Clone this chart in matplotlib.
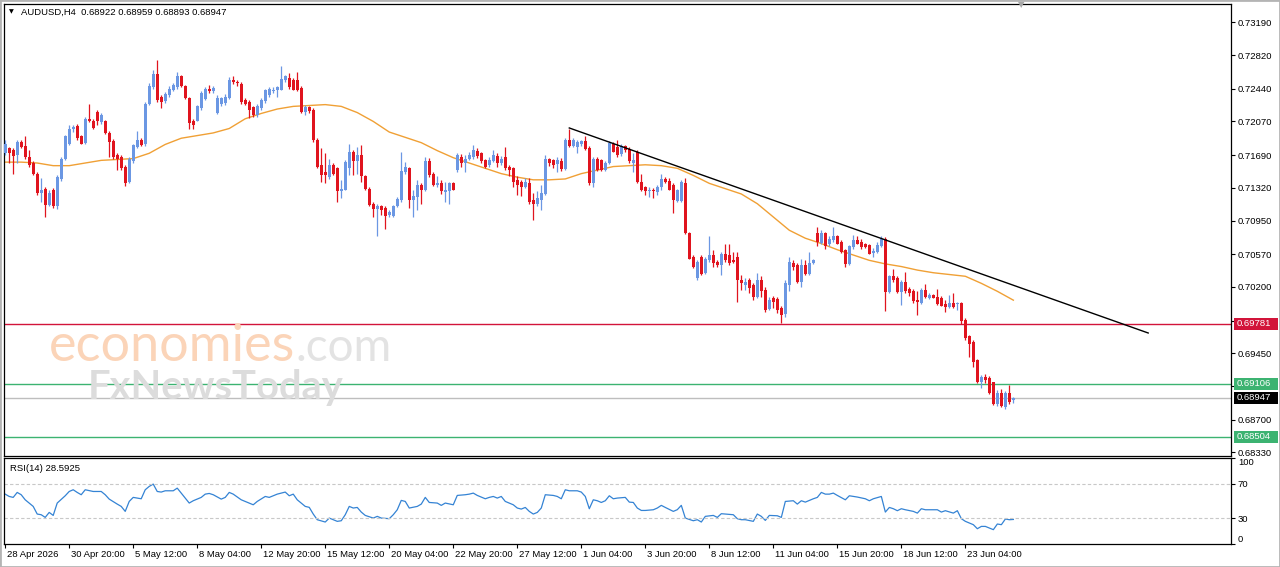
import matplotlib
matplotlib.use("Agg")
import matplotlib.pyplot as plt
from matplotlib.patches import Rectangle
from matplotlib.transforms import ScaledTranslation

# AUDUSD H4 candles (bar 0 = 28 Apr 04:00)
opens = [
    .7171, .7177, .7175, .7169, .7184, .7179, .7167, .7160, .7148, .7126,
    .7131, .7113, .7130, .7111, .7142, .7165, .7182, .7198, .7202, .7190,
    .7183, .7210, .7208, .7218, .7206, .7207, .7194, .7185, .7169, .7167,
    .7156, .7138, .7162, .7178, .7186, .7181, .7227, .7246, .7261, .7235,
    .7230, .7237, .7242, .7246, .7258, .7247, .7233, .7208, .7208, .7222,
    .7232, .7244, .7241, .7217, .7227, .7228, .7234, .7254, .7252, .7249,
    .7231, .7229, .7223, .7214, .7222, .7230, .7237, .7241, .7242, .7243,
    .7254, .7256, .7254, .7254, .7245, .7218, .7223, .7220, .7186, .7158,
    .7150, .7144, .7158, .7154, .7128, .7130, .7154, .7173, .7162, .7169,
    .7145, .7131, .7114, .7108, .7111, .7109, .7101, .7100, .7111, .7118,
    .7150, .7154, .7118, .7122, .7135, .7129, .7162, .7148, .7135, .7137,
    .7127, .7128, .7137, .7152, .7167, .7160, .7164, .7167, .7174, .7171,
    .7163, .7158, .7162, .7168, .7160, .7167, .7156, .7154, .7141, .7138,
    .7133, .7137, .7118, .7114, .7118, .7125, .7164, .7163, .7159, .7162,
    .7153, .7186, .7179, .7178, .7182, .7185, .7177, .7137, .7165, .7163,
    .7152, .7160, .7182, .7178, .7170, .7179, .7176, .7160, .7173, .7139,
    .7133, .7128, .7130, .7127, .7133, .7142, .7140, .7135, .7117, .7117,
    .7137, .7081, .7054, .7030, .7054, .7036, .7050, .7056, .7048, .7045,
    .7057, .7056, .7050, .7054, .7028, .7022, .7028, .7022, .7009, .7028,
    .7017, .6995, .7007, .7006, .6996, .6989, .7022, .7047, .7045, .7026,
    .7045, .7035, .7047, .7081, .7070, .7081, .7069, .7073, .7077, .7071,
    .7062, .7046, .7065, .7073, .7071, .7068, .7067, .7058, .7060, .7066,
    .7074, .7014, .7032, .7030, .7014, .7025, .7018, .7015, .7005, .7002,
    .7016, .7008, .7011, .7009, .7008, .7001, .6997, .7002, .7001, .7002,
    .6983, .6964, .6958, .6937, .6912, .6918, .6917, .6912, .6888, .6900,
    .6884, .6900, .68922,
]
highs = [
    .7186, .7178, .7177, .7186, .7186, .7190, .7175, .7162, .7150, .7143,
    .7133, .7130, .7132, .7146, .7167, .7192, .7203, .7203, .7204, .7192,
    .7212, .7227, .7210, .7220, .7216, .7209, .7196, .7187, .7171, .7169,
    .7158, .7167, .7182, .7196, .7188, .7229, .7250, .7265, .7276, .7237,
    .7240, .7247, .7250, .7263, .7259, .7248, .7235, .7210, .7226, .7241,
    .7246, .7248, .7247, .7237, .7235, .7238, .7257, .7258, .7254, .7251,
    .7233, .7231, .7224, .7227, .7233, .7244, .7246, .7246, .7247, .7270,
    .7260, .7262, .7256, .7263, .7247, .7226, .7224, .7222, .7188, .7177,
    .7171, .7165, .7160, .7156, .7141, .7163, .7182, .7175, .7178, .7180,
    .7147, .7133, .7116, .7114, .7112, .7111, .7107, .7112, .7122, .7173,
    .7161, .7156, .7130, .7141, .7137, .7167, .7166, .7150, .7145, .7141,
    .7139, .7139, .7139, .7171, .7170, .7169, .7172, .7180, .7177, .7173,
    .7165, .7167, .7175, .7171, .7168, .7178, .7158, .7156, .7145, .7141,
    .7143, .7143, .7126, .7128, .7135, .7169, .7166, .7165, .7167, .7166,
    .7188, .7199, .7188, .7186, .7186, .7190, .7179, .7167, .7167, .7165,
    .7162, .7185, .7184, .7186, .7182, .7180, .7178, .7171, .7175, .7148,
    .7134, .7133, .7132, .7135, .7148, .7144, .7143, .7137, .7131, .7141,
    .7143, .7082, .7056, .7050, .7056, .7054, .7077, .7062, .7050, .7060,
    .7069, .7068, .7060, .7060, .7033, .7030, .7030, .7024, .7036, .7032,
    .7020, .7009, .7010, .7009, .6998, .7028, .7054, .7050, .7047, .7052,
    .7050, .7060, .7052, .7088, .7084, .7082, .7077, .7088, .7079, .7073,
    .7063, .7067, .7079, .7077, .7074, .7070, .7069, .7064, .7071, .7077,
    .7076, .7034, .7040, .7032, .7028, .7037, .7020, .7018, .7015, .7019,
    .7023, .7013, .7012, .7018, .7010, .7005, .7011, .7013, .7003, .7003,
    .6985, .6966, .6960, .6938, .6920, .6922, .6919, .6913, .6904, .6905,
    .6902, .6909, .68959,
]
lows = [
    .7169, .7160, .7148, .7160, .7177, .7165, .7156, .7147, .7124, .7116,
    .7099, .7111, .7109, .7108, .7140, .7163, .7180, .7195, .7186, .7181,
    .7181, .7206, .7199, .7203, .7204, .7193, .7167, .7165, .7152, .7152,
    .7134, .7137, .7160, .7177, .7179, .7179, .7225, .7244, .7229, .7222,
    .7228, .7235, .7241, .7244, .7246, .7232, .7199, .7198, .7207, .7220,
    .7231, .7239, .7239, .7215, .7224, .7226, .7232, .7249, .7247, .7227,
    .7226, .7211, .7212, .7212, .7220, .7228, .7235, .7239, .7235, .7242,
    .7252, .7244, .7242, .7241, .7216, .7214, .7217, .7184, .7154, .7139,
    .7137, .7142, .7146, .7116, .7120, .7130, .7146, .7146, .7148, .7139,
    .7130, .7111, .7099, .7077, .7101, .7085, .7099, .7099, .7110, .7116,
    .7148, .7109, .7099, .7107, .7114, .7128, .7144, .7134, .7133, .7125,
    .7116, .7114, .7129, .7150, .7156, .7150, .7163, .7165, .7166, .7160,
    .7154, .7156, .7161, .7156, .7158, .7152, .7145, .7133, .7124, .7123,
    .7132, .7114, .7096, .7111, .7107, .7124, .7157, .7154, .7150, .7151,
    .7152, .7178, .7178, .7171, .7179, .7175, .7135, .7133, .7151, .7151,
    .7151, .7159, .7172, .7167, .7168, .7173, .7160, .7150, .7137, .7128,
    .7124, .7122, .7121, .7124, .7130, .7137, .7129, .7104, .7116, .7116,
    .7080, .7051, .7041, .7028, .7033, .7035, .7048, .7043, .7043, .7034,
    .7048, .7045, .7047, .7003, .7016, .7017, .7013, .7005, .7007, .7009,
    .6992, .6994, .6996, .6990, .6979, .6986, .7015, .7039, .7024, .7020,
    .7033, .7033, .7046, .7066, .7068, .7063, .7066, .7071, .7068, .7058,
    .7043, .7045, .7063, .7068, .7063, .7064, .7057, .7054, .7058, .7065,
    .6993, .7013, .7026, .7013, .6999, .7013, .7010, .7002, .6988, .7001,
    .7007, .7006, .7007, .6999, .6998, .6992, .6996, .6996, .6994, .6978,
    .6960, .6941, .6930, .6911, .6906, .6911, .6899, .6887, .6885, .6884,
    .6882, .6888, .68893,
]
closes = [
    .7182, .7171, .7168, .7184, .7178, .7167, .7158, .7148, .7126, .7130,
    .7113, .7126, .7111, .7144, .7165, .7190, .7199, .7201, .7188, .7182,
    .7210, .7207, .7200, .7207, .7214, .7194, .7184, .7167, .7165, .7154,
    .7137, .7165, .7180, .7186, .7180, .7227, .7247, .7261, .7231, .7229,
    .7238, .7244, .7248, .7258, .7247, .7233, .7205, .7203, .7224, .7239,
    .7244, .7241, .7245, .7233, .7233, .7235, .7254, .7251, .7250, .7229,
    .7227, .7220, .7214, .7224, .7231, .7243, .7244, .7243, .7246, .7255,
    .7258, .7246, .7243, .7242, .7218, .7223, .7219, .7186, .7156, .7146,
    .7146, .7158, .7148, .7128, .7131, .7161, .7173, .7162, .7169, .7145,
    .7131, .7113, .7108, .7111, .7107, .7100, .7105, .7111, .7119, .7151,
    .7155, .7118, .7123, .7135, .7129, .7162, .7146, .7135, .7137, .7128,
    .7129, .7137, .7130, .7169, .7160, .7164, .7169, .7175, .7168, .7162,
    .7156, .7163, .7169, .7160, .7165, .7154, .7152, .7139, .7135, .7133,
    .7139, .7116, .7114, .7120, .7126, .7165, .7160, .7158, .7163, .7153,
    .7186, .7179, .7186, .7184, .7185, .7176, .7137, .7165, .7152, .7152,
    .7160, .7183, .7173, .7169, .7179, .7175, .7162, .7163, .7139, .7130,
    .7128, .7130, .7128, .7133, .7142, .7139, .7130, .7118, .7129, .7138,
    .7081, .7052, .7043, .7048, .7035, .7052, .7056, .7047, .7045, .7057,
    .7050, .7047, .7048, .7028, .7024, .7026, .7019, .7009, .7028, .7015,
    .6994, .7005, .7003, .6994, .6988, .7024, .7048, .7043, .7026, .7045,
    .7035, .7047, .7050, .7071, .7081, .7066, .7074, .7077, .7069, .7060,
    .7046, .7066, .7073, .7069, .7065, .7065, .7057, .7061, .7067, .7074,
    .7014, .7032, .7028, .7014, .7025, .7015, .7013, .7004, .7003, .7016,
    .7009, .7011, .7008, .7001, .6998, .6997, .7002, .6997, .7002, .6981,
    .6962, .6956, .6935, .6912, .6918, .6915, .6900, .6888, .6900, .6885,
    .6900, .6890, .68947,
]

# moving average (orange), sampled every 4 bars
ma_bars = [0, 4, 8, 12, 16, 20, 24, 28, 32, 36, 40, 44, 48, 52, 56, 60,
           64, 68, 72, 76, 80, 84, 88, 92, 96, 100, 104, 108, 112, 116,
           120, 124, 128, 132, 136, 140, 144, 148, 152, 156, 160, 164, 168,
           172, 176, 180, 184, 188, 192, 196, 200, 204, 208, 212, 216, 220,
           224, 228, 232, 236, 240, 244, 248, 252]
ma_vals = [.7161, .7161, .7160, .7157, .7157, .7160, .7163, .7164, .7165,
           .7171, .7181, .7188, .7191, .7194, .7199, .7210, .7216, .7221,
           .7224, .7225, .7226, .7224, .7217, .7207, .7195, .7189, .7183,
           .7174, .7166, .7160, .7154, .7148, .7144, .7141, .7141, .7142,
           .7148, .7152, .7156, .7157, .7158, .7157, .7154, .7146, .7137,
           .7131, .7125, .7114, .7099, .7084, .7075, .7069, .7062, .7056,
           .7050, .7046, .7043, .7039, .7036, .7034, .7032, .7024, .7015,
           .7005]

# RSI(14) readings (bar, value)
rsi_points = [
    (0, 58.1), (1, 55.4), (2, 54.3), (3, 60.1), (4, 57.4), (5, 51.5), (7, 43.8),
    (8, 34.9), (9, 34.1), (10, 31.0), (11, 36.8), (12, 33.3), (13, 47.7),
    (15, 56.2), (16, 61.2), (17, 63.2), (18, 60.1), (19, 57.4), (20, 63.2),
    (22, 61.2), (24, 61.2), (25, 57.4), (26, 52.3), (28, 46.5), (29, 43.8),
    (30, 38.0), (31, 49.6), (32, 54.3), (34, 52.7), (35, 63.2), (36, 67.1),
    (37, 69.8), (38, 61.2), (39, 60.5), (40, 62.0), (42, 62.0), (43, 65.1),
    (44, 59.3), (45, 53.5), (46, 47.7), (47, 50.4), (49, 54.3), (50, 58.1),
    (51, 58.9), (52, 57.4), (54, 52.3), (55, 54.3), (56, 60.1), (57, 58.1),
    (59, 51.5), (60, 49.6), (62, 45.7), (63, 49.6), (65, 55.4), (66, 54.3),
    (67, 56.2), (68, 58.1), (70, 60.5), (71, 56.2), (72, 58.1), (73, 51.5),
    (75, 43.8), (76, 42.7), (77, 34.9), (78, 28.3), (80, 25.6), (81, 30.2),
    (82, 28.3), (83, 26.4), (84, 27.1), (85, 34.1), (86, 43.8), (87, 41.9),
    (88, 42.6), (89, 37.2), (90, 33.3), (92, 30.2), (93, 32.2), (94, 30.2),
    (96, 29.5), (97, 34.1), (98, 39.9), (99, 50.8), (100, 49.6), (101, 41.9),
    (103, 43.8), (104, 46.5), (105, 54.3), (106, 48.4), (108, 47.7),
    (109, 45.0), (110, 47.7), (112, 45.7), (113, 56.6), (115, 57.4),
    (116, 58.1), (117, 59.3), (118, 56.6), (120, 52.7), (121, 54.3),
    (122, 55.4), (123, 53.5), (124, 55.4), (125, 49.6), (127, 45.7),
    (128, 41.9), (129, 40.7), (130, 42.6), (131, 38.0), (132, 34.9),
    (133, 36.8), (134, 41.9), (135, 57.4), (137, 56.6), (138, 55.4),
    (139, 52.7), (140, 63.2), (141, 62.0), (143, 62.0), (144, 60.5),
    (145, 55.4), (146, 41.1), (147, 51.5), (148, 50.4), (149, 48.4),
    (150, 50.4), (151, 56.2), (152, 52.7), (153, 53.5), (155, 54.3),
    (156, 48.8), (157, 48.4), (158, 41.9), (159, 39.1), (160, 39.1),
    (162, 39.9), (163, 41.9), (164, 45.0), (165, 42.6), (167, 38.0),
    (168, 40.0), (169, 45.0), (170, 30.2), (172, 27.1), (173, 28.3),
    (174, 25.6), (175, 32.2), (177, 33.3), (178, 31.0), (179, 35.3),
    (180, 34.9), (182, 34.1), (183, 29.5), (184, 28.3), (185, 28.3),
    (187, 26.4), (188, 34.9), (189, 32.2), (190, 27.5), (191, 33.3),
    (193, 32.9), (194, 31.0), (195, 49.6), (197, 50.4), (198, 46.5),
    (199, 50.4), (200, 48.8), (202, 52.7), (203, 54.3), (204, 60.1),
    (205, 58.1), (206, 58.1), (207, 59.3), (208, 56.6), (210, 51.5),
    (211, 56.2), (212, 55.4), (213, 54.7), (215, 52.7), (216, 50.4),
    (217, 52.7), (219, 55.4), (220, 37.2), (221, 42.6), (222, 41.1),
    (223, 38.8), (224, 41.1), (225, 39.9), (227, 38.0), (228, 36.0),
    (229, 41.1), (230, 39.9), (232, 39.9), (233, 39.9), (234, 37.2),
    (235, 38.8), (237, 36.0), (238, 38.8), (239, 29.5), (240, 26.4),
    (242, 22.5), (243, 17.8), (244, 20.5), (245, 20.5), (246, 18.6),
    (247, 16.7), (248, 23.3), (249, 22.5), (250, 29.1), (251, 28.3),
    (252, 28.6),
]

# drawn objects
trend_bars = [141, 285.7]
trend_prices = [0.71996, 0.69679]
resistance = 0.69781
supports = [0.69106, 0.68504]
last_price = 0.68947

price_ticks = [0.73190, 0.72820, 0.72440, 0.72070, 0.71690, 0.71320, 0.70950,
               0.70570, 0.70200, 0.69820, 0.69450, 0.69080, 0.68700, 0.68330]
hidden_ticks = [0.69820, 0.69080]   # covered by the price tags
rsi_ticks = [100, 70, 30, 0]
date_bars = [0, 16, 32, 48, 64, 80, 96, 112, 128, 144, 160, 176, 192, 208, 224, 240]
date_labels = ["28 Apr 2026", "30 Apr 20:00", "5 May 12:00", "8 May 04:00",
               "12 May 20:00", "15 May 12:00", "20 May 04:00", "22 May 20:00",
               "27 May 12:00", "1 Jun 04:00", "3 Jun 20:00", "8 Jun 12:00",
               "11 Jun 04:00", "15 Jun 20:00", "18 Jun 12:00", "23 Jun 04:00"]

bull = "#6B97E3"
bear = "#E0141E"
font = "Liberation Sans"
fs = 6.8

W, H = 1280, 567
fig = plt.figure(figsize=(W / 100, H / 100), dpi=100)
ax = fig.add_axes([4 / W, 111 / H, 1227 / W, 452 / H])
ax2 = fig.add_axes([4 / W, 23 / H, 1227 / W, 86 / H])

n = len(closes)
idx = list(range(n))
cols = [bull if closes[i] >= opens[i] else bear for i in idx]
bottoms = [min(opens[i], closes[i]) for i in idx]
heights = [max(abs(closes[i] - opens[i]), 0.00003) for i in idx]
ax.vlines(idx, lows, highs, colors=cols, lw=0.9, zorder=3)
ax.bar(idx, heights, bottom=bottoms, width=0.74, color=cols, linewidth=0, zorder=4)

ax.plot(ma_bars, ma_vals, color="#F0A035", lw=1.0, zorder=2)
ax.plot(trend_bars, trend_prices, color="black", lw=1.0, zorder=5)
ax.axhline(resistance, color="#D2143A", lw=1.0, zorder=1)
for s in supports:
    ax.axhline(s, color="#3CB371", lw=1.0, zorder=1)
ax.axhline(last_price, color="#BEBEBE", lw=1.0, zorder=1)

ax.set_xlim(-0.3, 306.4)
ax.set_ylim(0.68289, 0.73397)
ax.set_xticks([])
ax.yaxis.tick_right()
ax.set_yticks(price_ticks)
ax.set_yticklabels(["" if t in hidden_ticks else "%.5f" % t for t in price_ticks],
                   fontsize=fs, family=font)
ax.tick_params(axis="y", length=3, width=0.8, pad=2)

for a in (ax, ax2):
    for sp in a.spines.values():
        sp.set_color("black")
        sp.set_linewidth(0.9)

# price tags on the right axis
def tag(level, face):
    y = ax.transData.transform((0, level))[1]
    fig.patches.append(Rectangle((1234, y - 6), 44, 12, transform=None,
                                 facecolor=face, edgecolor="none", zorder=5))
    fig.text(1237 / W, y / H, "%.5f" % level, color="white", va="center",
             fontsize=fs, family=font, zorder=6)

tag(resistance, "#D2143A")
for s in supports:
    tag(s, "#3CB371")
tag(last_price, "black")

# RSI panel
rsi_x = [p[0] for p in rsi_points]
rsi_y = [p[1] for p in rsi_points]
ax2.plot(rsi_x, rsi_y, color="#3483D4", lw=0.9)
for lv in (70, 30):
    ax2.axhline(lv, color="#C8C8C8", lw=0.8, ls=(0, (3, 2)))
ax2.set_xlim(-0.3, 306.4)
ax2.set_ylim(0, 100.2)
ax2.yaxis.tick_right()
ax2.set_yticks(rsi_ticks)
ax2.set_yticklabels([str(t) for t in rsi_ticks], fontsize=fs, family=font)
ax2.tick_params(axis="y", length=3, width=0.8, pad=2)
for lab, v in zip(ax2.get_yticklabels(), rsi_ticks):
    if v == 100:
        lab.set_va("top")
    elif v == 0:
        lab.set_va("bottom")
ax2.set_xticks(date_bars)
ax2.set_xticklabels(date_labels, fontsize=fs, family=font, ha="left")
ax2.tick_params(axis="x", length=3, width=0.8, pad=1.5)
shift = ScaledTranslation(1.0 / 72, 0, fig.dpi_scale_trans)
for lab in ax2.get_xticklabels():
    lab.set_transform(lab.get_transform() + shift)

ax2.text(0.0045, 0.93, "RSI(14) 28.5925", transform=ax2.transAxes,
         fontsize=fs, family=font, va="top")

# header
fig.text(9 / W, 1 - 12 / H, "\u25BC", fontsize=4.5, va="center")
fig.text(21 / W, 1 - 12 / H, "AUDUSD,H4  0.68922 0.68959 0.68893 0.68947",
         fontsize=fs, family=font, va="center")
fig.text(1021 / W, 1 - 5 / H, "\u25BC", fontsize=6, color="#A8A8A8",
         va="center", ha="center")

# watermark
fig.text(295 / W, 1 - 361 / H, "economies", fontsize=37.5, family="Lato",
         color="#FBD4B8", ha="right", va="baseline")
fig.text(296 / W, 1 - 361 / H, ".com", fontsize=33, family="Lato",
         color="#E3E3E3", ha="left", va="baseline")
fig.text(88 / W, 1 - 399 / H, "FxNewsToday", fontsize=28.7, family="Lato",
         weight="bold", color="#DCDCDC", ha="left", va="baseline")

fig.patches.append(Rectangle((0, 0), 1, 1, transform=fig.transFigure,
                             facecolor="none", edgecolor="#B4B4B4", lw=2))

fig.savefig("out.png", dpi=100)
